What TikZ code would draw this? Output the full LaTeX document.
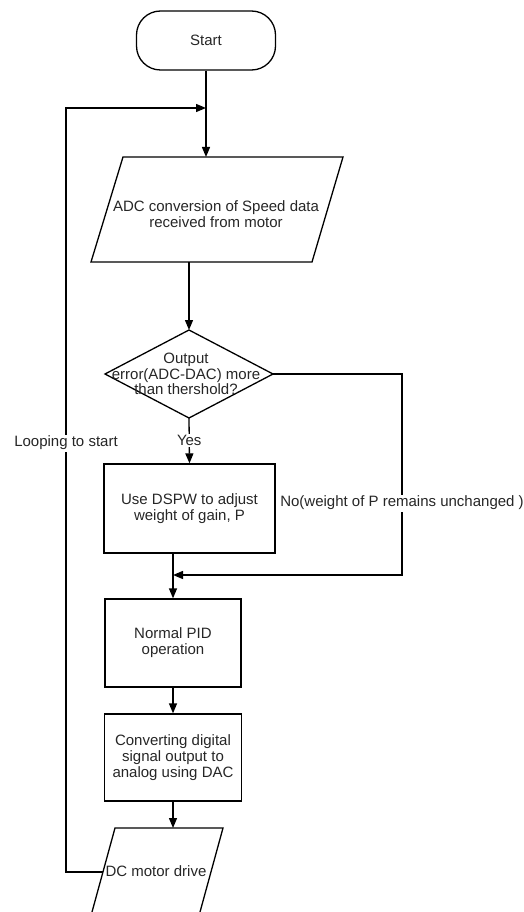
\documentclass[tikz,border=0pt]{standalone}
\usepackage{fontspec}
\setmainfont{Liberation Sans}
\usetikzlibrary{arrows.meta}
\begin{document}
\begin{tikzpicture}[x=1pt,y=-1pt,
  line width=1.3pt,
  every node/.style={font=\fontsize{15}{16}\selectfont, text=black!85, align=center, inner sep=0pt},
  arr/.style={-{Triangle[length=10pt,width=8pt]}},
  procbox/.style n args={2}{draw, rectangle, minimum width=#1, minimum height=#2},
  lbl/.style={fill=white, inner sep=1.5pt}
]
\useasboundingbox (0,0) rectangle (523,912);

% start
\node[draw, rounded corners=24pt, minimum width=139pt, minimum height=59pt] (start) at (206,40.5) {Start};
\coordinate (merge) at (206,108);

% ADC parallelogram
\coordinate (aTL) at (123,157);
\coordinate (aTR) at (343,157);
\coordinate (aBR) at (312,262);
\coordinate (aBL) at (91,262);
\draw (aTL) -- (aTR) -- (aBR) -- (aBL) -- cycle;
\coordinate (adcT) at (206,157);
\coordinate (adcB) at (189,262);
\node (adc) at (216,214) {ADC conversion of Speed data\\received from motor};

% decision
\coordinate (dT) at (189,330);
\coordinate (dR) at (273,374);
\coordinate (dB) at (189,418);
\coordinate (dL) at (105,374);
\draw (dT) -- (dR) -- (dB) -- (dL) -- cycle;
\node[font=\fontsize{15}{15.5}\selectfont] (dec) at (186,374) {Output\\error(ADC-DAC) more\\than thershold?};

% process boxes
\node[procbox={171pt}{89pt}] (dspw) at (189.5,508.5) {Use DSPW to adjust\\weight of gain, P};
\node[procbox={136pt}{88pt}] (pid) at (173,643) {Normal PID\\operation};
\node[procbox={137pt}{87pt}] (conv) at (173,757.5) {Converting digital\\signal output to\\analog using DAC};

% DC motor parallelogram (open at the bottom edge of the picture)
\coordinate (mTL) at (115,828);
\coordinate (mTR) at (223,828);
\coordinate (mBL) at (92,912);
\coordinate (mBR) at (200,912);
\draw (mBL) -- (mTL) -- (mTR) -- (mBR);
\coordinate (mT) at (173,828);
\coordinate (mL) at (103,872);
\node (dc) at (156,871) {DC motor drive};

% connectors
\coordinate (join) at (173,575);
\draw[arr] (start.south) -- (adcT);
\draw[arr] (adcB) -- (dT);
\draw[arr] (dB) -- node[lbl]{Yes} (dspw.north);
\draw[arr] (dspw.south -| pid.north) -- (pid.north);
\draw[arr] (dR) -- (402,374) -- node[lbl,pos=0.642]{No(weight of P remains unchanged )} (402,575) -- (join);
\draw[arr] (pid.south) -- (conv.north);
\draw[arr] (conv.south) -- (mT);
\draw[arr] (mL) -- (66,872) -- node[lbl,pos=0.5615]{Looping to start} (66,108) -- (merge);
\end{tikzpicture}
\end{document}
